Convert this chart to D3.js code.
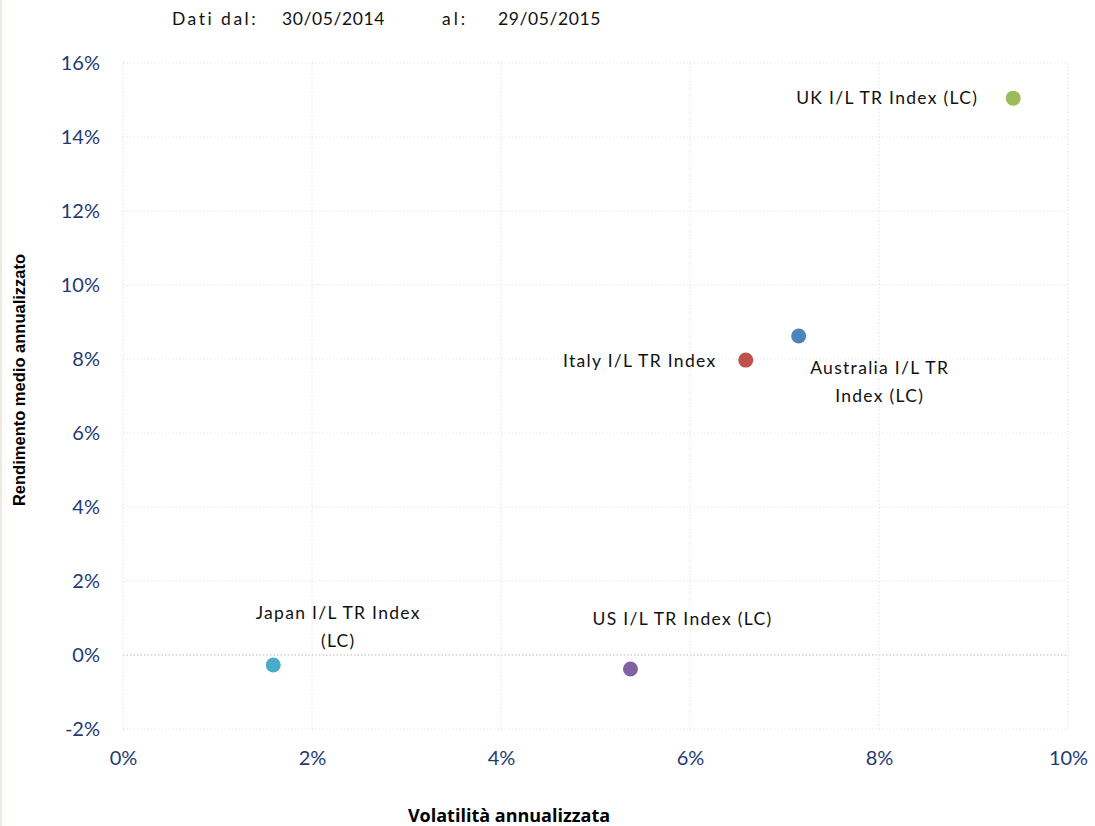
<!DOCTYPE html>
<html>
<head>
<meta charset="utf-8">
<script src="https://cdn.jsdelivr.net/npm/d3@7"></script>
<style>
  body { margin: 0; background: #fff; }
  text { font-family: Lato, "Open Sans", sans-serif; }
</style>
</head>
<body>
<div id="chart"></div>
<script>
// data (percent)
var names = ["UK I/L  TR Index (LC)", "Australia I/L TR Index (LC)", "Italy I/L TR Index", "Japan I/L TR Index (LC)", "US I/L TR Index (LC)"];
var volatility = [9.42, 7.15, 6.59, 1.59, 5.37];
var returns = [15.05, 8.62, 7.97, -0.27, -0.38];
var colors = ["#9bbb59", "#4f81bd", "#c0504d", "#4bacc6", "#8064a2"];
// label lines per point, with offset from the dot and anchor
var labelLines = [["UK I/L  TR Index (LC)"], ["Australia I/L TR", "Index (LC)"], ["Italy I/L TR Index"], ["Japan I/L TR Index", "(LC)"], ["US I/L TR Index (LC)"]];
var labelPos = [{dx: -35, dy: 0, a: "end"}, {dx: 81, dy: 32, a: "middle"}, {dx: -106, dy: 1, a: "middle"}, {dx: 65, dy: -52, a: "middle"}, {dx: 52, dy: -50, a: "middle"}];
var xTicks = [0, 2, 4, 6, 8, 10];
var yTicks = [-2, 0, 2, 4, 6, 8, 10, 12, 14, 16];

var W = 1095, H = 826;
var margin = {top: 63, right: 27, bottom: 97, left: 123},
    width = W - margin.left - margin.right,
    height = H - margin.top - margin.bottom;

var svg = d3.select("#chart").append("svg")
  .attr("width", W).attr("height", H);

// beige strip on the left edge
svg.append("rect").attr("x", 0).attr("y", 0).attr("width", 2).attr("height", H).attr("fill", "#eeeae0");

var g = svg.append("g").attr("transform", "translate(" + margin.left + "," + margin.top + ")");

var x = d3.scaleLinear().domain([0, 10]).range([0, width]);
var y = d3.scaleLinear().domain([-2, 16]).range([height, 0]);

// grid lines
g.selectAll(".hgrid").data(yTicks).join("line")
  .attr("x1", 0).attr("x2", width)
  .attr("y1", d => y(d)).attr("y2", d => y(d))
  .attr("stroke", d => d === 0 ? "#b8b8b8" : "#e6e6e6")
  .attr("stroke-width", 1.2)
  .attr("stroke-dasharray", "1.5,2");
g.selectAll(".vgrid").data(xTicks).join("line")
  .attr("y1", 0).attr("y2", height)
  .attr("x1", d => x(d)).attr("x2", d => x(d))
  .attr("stroke", "#e6e6e6")
  .attr("stroke-width", 1.2)
  .attr("stroke-dasharray", "1.5,2");

// axes (labels only)
var xAxis = g.append("g").attr("transform", "translate(0," + (height + 19) + ")")
  .call(d3.axisBottom(x).tickValues(xTicks).tickSize(0).tickFormat(d => d + "%"));
xAxis.select(".domain").remove();
xAxis.selectAll("text").attr("dy", "0.71em").attr("font-size", 20).attr("fill", "#1f3a73")
  .style("font-family", "Lato, sans-serif");

var yAxis = g.append("g").attr("transform", "translate(-20,0)")
  .call(d3.axisLeft(y).tickValues(yTicks).tickSize(0).tickFormat(d => d + "%"));
yAxis.select(".domain").remove();
yAxis.selectAll("text").attr("font-size", 20).attr("fill", "#1f3a73")
  .style("font-family", "Lato, sans-serif");

// points
var pts = names.map((n, i) => ({name: n, vx: volatility[i], ry: returns[i], c: colors[i], lines: labelLines[i], p: labelPos[i]}));
g.selectAll(".dot").data(pts).join("circle")
  .attr("cx", d => x(d.vx)).attr("cy", d => y(d.ry))
  .attr("r", 7.5).attr("fill", d => d.c);

// labels
var lab = g.selectAll(".lab").data(pts).join("text")
  .attr("text-anchor", d => d.p.a)
  .attr("font-size", 17.5)
  .attr("letter-spacing", 1.3)
  .attr("fill", "#111")
  .attr("transform", d => "translate(" + (x(d.vx) + d.p.dx) + "," + (y(d.ry) + d.p.dy) + ")");
lab.selectAll("tspan").data(d => d.lines).join("tspan")
  .attr("x", 0)
  .attr("dy", (d, i) => i === 0 ? "0.35em" : 28)
  .text(d => d);

// header
var hdr = svg.append("g").attr("font-size", 17.5).attr("fill", "#111");
hdr.append("text").attr("x", 172).attr("y", 25).text("Dati dal:").attr("letter-spacing", 2.5);
hdr.append("text").attr("x", 282).attr("y", 25).text("30/05/2014").attr("letter-spacing", 0.6);
hdr.append("text").attr("x", 442).attr("y", 25).text("al:").attr("letter-spacing", 3);
hdr.append("text").attr("x", 498).attr("y", 25).text("29/05/2015").attr("letter-spacing", 0.6);

// axis titles
svg.append("text").attr("x", 509).attr("y", 822).attr("text-anchor", "middle")
  .attr("font-size", 18).attr("font-weight", "bold")
  .style("font-family", "'Open Sans', sans-serif")
  .text("Volatilità annualizzata");
svg.append("text").attr("transform", "translate(25,380) rotate(-90)").attr("text-anchor", "middle")
  .attr("font-size", 16.5).attr("font-weight", "bold")
  .style("font-family", "'Liberation Sans', Arial, sans-serif")
  .text("Rendimento medio annualizzato");
</script>
</body>
</html>
